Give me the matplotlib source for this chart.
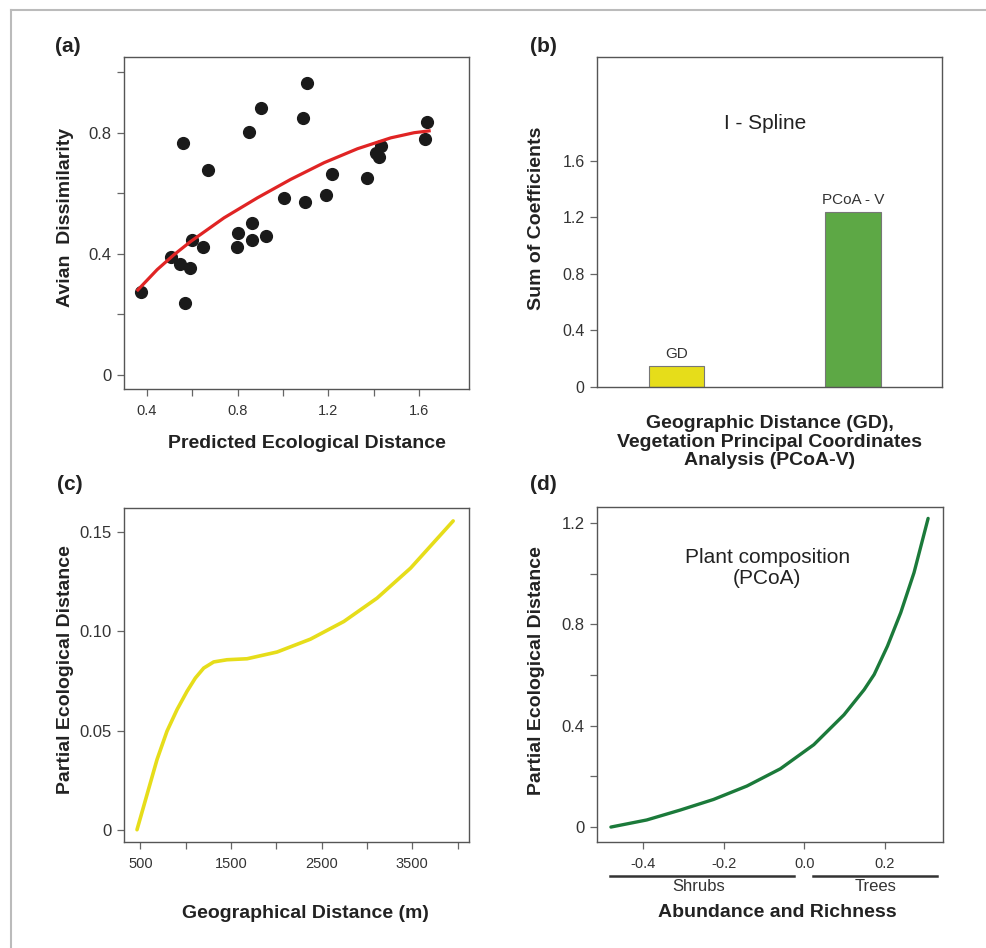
import matplotlib
matplotlib.use("Agg")
import matplotlib.pyplot as plt
from matplotlib.lines import Line2D

plt.rcParams['font.family'] = ['Liberation Sans', 'DejaVu Sans']

# (a) observed vs predicted
pred_dist = [0.375, 0.507, 0.547, 0.588, 0.568, 0.597, 0.558, 0.649, 0.671, 0.798,
             0.802, 0.862, 0.862, 0.923, 0.852, 0.902, 1.005, 1.086, 1.105, 1.096,
             1.188, 1.214, 1.370, 1.410, 1.425, 1.431, 1.624, 1.634]
avian_dis = [0.273, 0.389, 0.366, 0.353, 0.237, 0.447, 0.767, 0.423, 0.677, 0.423,
             0.469, 0.503, 0.446, 0.458, 0.802, 0.883, 0.584, 0.848, 0.964, 0.572,
             0.595, 0.664, 0.652, 0.733, 0.721, 0.756, 0.778, 0.836]
fit_x = [0.360, 0.445, 0.519, 0.593, 0.740, 0.887, 1.034, 1.181, 1.328, 1.475, 1.578, 1.644]
fit_y = [0.281, 0.348, 0.397, 0.441, 0.519, 0.585, 0.646, 0.701, 0.747, 0.783, 0.800, 0.806]

# (b) sum of I-spline coefficients
bar_names = ['GD', 'PCoA - V']
bar_vals = [0.151, 1.241]
bar_cols = ['#E6DD1A', '#5DA845']

# (c) geographic distance spline
geo_x = [463, 574, 684, 794, 905, 1015, 1107, 1199, 1309, 1456, 1677, 2008, 2377, 2745, 3112, 3481, 3951]
geo_y = [0.0, 0.0178, 0.0354, 0.0497, 0.0606, 0.0698, 0.0765, 0.0815, 0.0846, 0.0857, 0.0862,
         0.0896, 0.0961, 0.1050, 0.1168, 0.1319, 0.1557]

# (d) plant composition spline
pc_x = [-0.480, -0.391, -0.308, -0.225, -0.142, -0.059, 0.024, 0.099, 0.149, 0.174, 0.207, 0.240, 0.273, 0.308]
pc_y = [0.0, 0.028, 0.067, 0.109, 0.162, 0.230, 0.325, 0.443, 0.542, 0.602, 0.714, 0.846, 1.004, 1.218]

fig = plt.figure(figsize=(9.86, 9.48), dpi=100)

# thin frame at top and left
fig.add_artist(Line2D([11/986, 11/986], [0, 1 - 10/948], color='#BBBBBB', lw=1.5))
fig.add_artist(Line2D([11/986, 1], [1 - 10/948, 1 - 10/948], color='#BBBBBB', lw=1.5))

axa = fig.add_axes([0.1258, 0.5897, 0.3499, 0.3502])
axb = fig.add_axes([0.6055, 0.5918, 0.3499, 0.3481])
axc = fig.add_axes([0.1258, 0.1118, 0.3499, 0.3523])
axd = fig.add_axes([0.6055, 0.1118, 0.3509, 0.3534])


def style(ax):
    for s in ax.spines.values():
        s.set_color('#555555')
        s.set_linewidth(1.0)
    ax.tick_params(direction='out', length=5, width=0.9, color='#666666', labelcolor='#333333')
    ax.tick_params(axis='x', labelsize=10.5, pad=6)
    ax.tick_params(axis='y', labelsize=12, pad=4)


def labels(ax, xl, yl, xpos, ypos):
    ax.set_xlabel(xl, fontsize=14, fontweight='bold', color='#222222', va='center', ha='center')
    ax.xaxis.set_label_coords(*xpos)
    ax.set_ylabel(yl, fontsize=14, fontweight='bold', color='#222222', va='center', ha='center')
    ax.yaxis.set_label_coords(*ypos)


# (a)
style(axa)
axa.scatter(pred_dist, avian_dis, s=72, color='#1A1A1A', zorder=3)
axa.plot(fit_x, fit_y, color='#E02424', lw=2.3, zorder=4)
axa.set_xlim(0.299, 1.82)
axa.set_ylim(-0.046, 1.05)
axa.set_xticks([0.4, 0.6, 0.8, 1.0, 1.2, 1.4, 1.6])
axa.set_xticklabels(['0.4', '', '0.8', '', '1.2', '', '1.6'])
axa.set_yticks([0, 0.2, 0.4, 0.6, 0.8, 1.0])
axa.set_yticklabels(['0', '', '0.4', '', '0.8', ''])
labels(axa, 'Predicted Ecological Distance', 'Avian  Dissimilarity', (0.53, -0.163), (-0.171, 0.518))

# (b)
style(axb)
xpos = [0, 1]
axb.bar(xpos, bar_vals, width=0.315, color=bar_cols, edgecolor='#777777', linewidth=0.8)
for x, v, n in zip(xpos, bar_vals, bar_names):
    axb.text(x, v + 0.08, n, ha='center', va='center', fontsize=11, color='#333333')
axb.text(0.5, 1.868, 'I - Spline', ha='center', va='center', fontsize=15, color='#222222')
axb.set_xlim(-0.45, 1.502)
axb.set_ylim(0, 2.336)
axb.set_xticks([])
axb.set_yticks([0, 0.4, 0.8, 1.2, 1.6])
axb.set_yticklabels(['0', '0.4', '0.8', '1.2', '1.6'])
axb.tick_params(axis='y', labelsize=11.5)
axb.set_xlabel('Geographic Distance (GD),\nVegetation Principal Coordinates\nAnalysis (PCoA-V)',
               fontsize=14, fontweight='bold', color='#222222', va='center', ha='center',
               linespacing=1.12)
axb.xaxis.set_label_coords(0.5, -0.167)
axb.set_ylabel('Sum of Coefficients', fontsize=14, fontweight='bold', color='#222222',
               va='center', ha='center')
axb.yaxis.set_label_coords(-0.174, 0.512)

# (c)
style(axc)
axc.plot(geo_x, geo_y, color='#E6DD1A', lw=2.6, solid_capstyle='round')
axc.set_xlim(320, 4126)
axc.set_ylim(-0.0062, 0.1622)
axc.set_xticks([500, 1000, 1500, 2000, 2500, 3000, 3500, 4000])
axc.set_xticklabels(['500', '', '1500', '', '2500', '', '3500', ''])
axc.set_yticks([0, 0.05, 0.10, 0.15])
axc.set_yticklabels(['0', '0.05', '0.10', '0.15'])
labels(axc, 'Geographical Distance (m)', 'Partial Ecological Distance', (0.525, -0.213), (-0.171, 0.515))

# (d)
style(axd)
axd.plot(pc_x, pc_y, color='#1B7A3A', lw=2.4, solid_capstyle='round')
axd.text(-0.0916, 1.022, 'Plant composition\n(PCoA)', ha='center', va='center', fontsize=15,
         color='#222222', linespacing=1.1)
axd.set_xlim(-0.5145, 0.345)
axd.set_ylim(-0.059, 1.263)
axd.set_xticks([-0.4, -0.2, 0.0, 0.2])
axd.set_xticklabels(['-0.4', '-0.2', '0.0', '0.2'])
axd.set_yticks([0, 0.2, 0.4, 0.6, 0.8, 1.0, 1.2])
axd.set_yticklabels(['0', '', '0.4', '', '0.8', '', '1.2'])
tr = axd.get_xaxis_transform()
axd.plot([-0.482, -0.025], [-0.1005, -0.1005], transform=tr, clip_on=False, color='#333333', lw=1.8)
axd.plot([0.022, 0.331], [-0.1005, -0.1005], transform=tr, clip_on=False, color='#333333', lw=1.8)
axd.text(-0.262, -0.134, 'Shrubs', transform=tr, ha='center', va='center', fontsize=12, color='#333333')
axd.text(0.178, -0.134, 'Trees', transform=tr, ha='center', va='center', fontsize=12, color='#333333')
labels(axd, 'Abundance and Richness', 'Partial Ecological Distance', (0.52, -0.209), (-0.174, 0.513))

# panel letters
for x, y, t in [(68, 47, '(a)'), (543, 47, '(b)'), (70, 485, '(c)'), (543, 485, '(d)')]:
    fig.text(x / 986, 1 - y / 948, t, ha='center', va='center', fontsize=15,
             fontweight='bold', color='#222222')

fig.savefig('out.png', dpi=100)
